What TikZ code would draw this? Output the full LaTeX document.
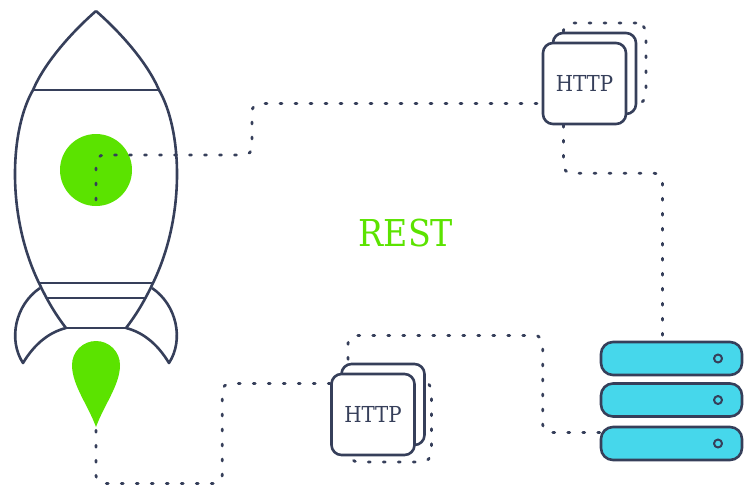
\documentclass[tikz,border=0pt]{standalone}
\usepackage{fontspec}
\newfontfamily\slab[FakeStretch=0.9]{DejaVu Serif}
\definecolor{ink}{HTML}{363F5A}
\definecolor{lime}{HTML}{5BE300}
\definecolor{sky}{HTML}{46D7EB}

\begin{document}
\begin{tikzpicture}[x=1pt, y=-1pt, line width=2.6pt, line join=round,
    link/.style={draw=ink, line width=2.8pt, dash pattern=on 2pt off 13pt, line cap=round, rounded corners=8pt},
    card/.style={draw=ink, fill=white, rounded corners=10pt, minimum width=83pt, minimum height=81pt, inner sep=0pt},
    ghost/.style={draw=ink, line width=2.8pt, dash pattern=on 2pt off 13pt, line cap=round, rounded corners=10pt,
      minimum width=83pt, minimum height=81pt, inner sep=0pt},
    rack/.style={draw=ink, fill=sky, rounded corners=12pt, minimum width=141pt, minimum height=33pt},
    led/.style={circle, draw=ink, line width=2pt, fill=sky, minimum size=8pt, inner sep=0pt}]
    \useasboundingbox (0,0) rectangle (751,485);

    % rocket
    \node[circle, fill=lime, minimum size=72pt, inner sep=0pt] (win) at (96,170) {};
    \draw[ink] (96,11) .. controls (72,32) and (45,62) .. (33,90)
               .. controls (10,130) and (6,215) .. (39,283)
               .. controls (48,302) and (56,315) .. (66,328);
    \draw[ink] (96,11) .. controls (120,32) and (147,62) .. (159,90)
               .. controls (182,130) and (186,215) .. (153,283)
               .. controls (144,302) and (136,315) .. (126,328);
    \draw[ink] (33,90) -- (159,90);
    \draw[ink] (39,283) -- (153,283);
    \draw[ink] (46,298) -- (146,298);
    \draw[ink] (66,328) -- (126,328);
    \draw[ink] (40,288) .. controls (15,305) and (8,340) .. (23,363)
               .. controls (35,343) and (50,332) .. (66,328);
    \draw[ink] (152,288) .. controls (177,305) and (184,340) .. (169,363)
               .. controls (157,343) and (142,332) .. (126,328);
    \fill[lime] (96,427) .. controls (88,405) and (72,385) .. (72,365)
                arc[start angle=180, end angle=0, radius=24pt]
                .. controls (120,385) and (104,405) .. (96,427) -- cycle;
    \coordinate (flame) at (96,427);

    % http cards
    \node[ghost] (h1c) at (604.5,63.5) {};
    \node[card] (h1b) at (594.5,73.5) {};
    \node[card] (h1) at (584.5,83.5) {\slab\fontsize{22}{22}\selectfont\color{ink}HTTP};

    \node[ghost] (h2c) at (390,421.5) {};
    \node[card] (h2b) at (383,404.5) {};
    \node[card] (h2) at (373,414.5) {\slab\fontsize{22}{22}\selectfont\color{ink}HTTP};

    % servers
    \node[rack] (s1) at (671.5,358.5) {};
    \node[rack] (s2) at (671.5,400) {};
    \node[rack] (s3) at (671.5,443.5) {};
    \node[led] (l1) at (718,358.5) {};
    \node[led] (l2) at (718,400) {};
    \node[led] (l3) at (718,443.5) {};

    \node[text=lime] (rest) at (406,233) {\slab\fontsize{37}{37}\selectfont REST};

    % links
    \draw[link] ([yshift=-30pt]win.center) |- (252,155) |- ([yshift=-20pt]h1.west);
    \draw[link] ([xshift=-21pt]h1.south) -- ++(0,48) -| ([xshift=-9pt]s1.north);
    \draw[link] ([yshift=11pt]s3.west) -- ++(-57,0) -- ++(0,-97) -| ([xshift=-35pt]h2b.north);
    \draw[link] ([yshift=31pt]h2.west) -| ++(-108,100) -| (flame);
\end{tikzpicture}
\end{document}
